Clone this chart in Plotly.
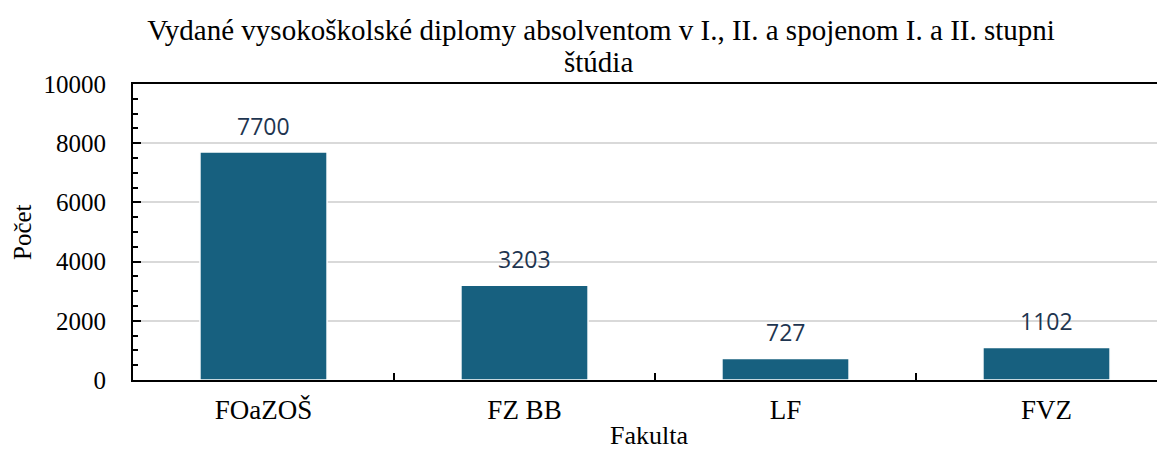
import plotly.graph_objects as go

categories = ["FOaZOŠ", "FZ BB", "LF", "FVZ"]
values = [7700, 3203, 727, 1102]
labels = ["7700", "3203", "727", "1102"]
y_ticks = [0, 2000, 4000, 6000, 8000, 10000]
y_tick_text = ["0", "2000", "4000", "6000", "8000", "10000"]

title_line1 = "Vydané vysokoškolské diplomy absolventom v I., II. a spojenom I. a II. stupni"
title_line2 = "štúdia"
serif = "Liberation Serif, Times New Roman, serif"
bar_color = "#17607f"
label_color = "#1e3550"

W, H = 1157, 442  # page has an 8px body margin

fig = go.Figure()
fig.add_trace(go.Bar(
    x=categories, y=values, width=0.487,
    marker=dict(color=bar_color, line=dict(color="white", width=1.5)),
    hoverinfo="skip",
))

for c, v, t in zip(categories, values, labels):
    fig.add_annotation(x=c, y=v, text=t, showarrow=False, yshift=26,
                       yanchor="middle",
                       font=dict(family="Open Sans, sans-serif", size=23, color=label_color))

# second line of the title (tighter line spacing than plotly's <br>)
fig.add_annotation(xref="paper", yref="paper", x=(590 - 125) / 1032, y=1, yshift=22,
                   text=title_line2, showarrow=False, xanchor="center", yanchor="middle",
                   font=dict(family=serif, size=29, color="black"))

fig.add_annotation(xref="paper", yref="paper", x=0.5, y=0, yshift=-55,
                   text="Fakulta", showarrow=False, yanchor="middle",
                   font=dict(family=serif, size=26, color="black"))
fig.add_annotation(xref="paper", yref="paper", x=0, y=0.5, xshift=-111,
                   text="Počet", showarrow=False, textangle=-90,
                   xanchor="center", yanchor="middle",
                   font=dict(family=serif, size=25, color="black"))

fig.update_layout(
    width=W, height=H,
    margin=dict(l=125, r=0, t=76, b=70),
    paper_bgcolor="white", plot_bgcolor="white",
    showlegend=False,
    title=dict(text=title_line1, x=593 / W, xanchor="center", y=1 - 22 / H, yanchor="middle",
               font=dict(family=serif, size=29, color="black")),
    xaxis=dict(
        range=[-0.5, 3.454], showline=True, linecolor="black", linewidth=2,
        mirror=True, ticks="inside", tickson="boundaries", ticklen=7,
        tickwidth=1.5, tickcolor="black",
        tickfont=dict(family=serif, size=27, color="black"),
        ticklabelstandoff=5, showgrid=False, fixedrange=True,
    ),
    yaxis=dict(
        range=[0, 10000], tickvals=y_ticks, ticktext=y_tick_text, showline=True,
        linecolor="black", linewidth=2, ticks="inside", ticklen=8, tickwidth=2,
        tickcolor="black",
        showgrid=True, gridcolor="#d9d9d9", gridwidth=1.5, zeroline=False,
        tickfont=dict(family=serif, size=25, color="black"),
        ticklabelstandoff=20,
        minor=dict(dtick=500, ticks="inside", ticklen=5, tickwidth=1.5,
                   tickcolor="black", showgrid=False),
        fixedrange=True,
    ),
)

fig.write_html("out.html")
